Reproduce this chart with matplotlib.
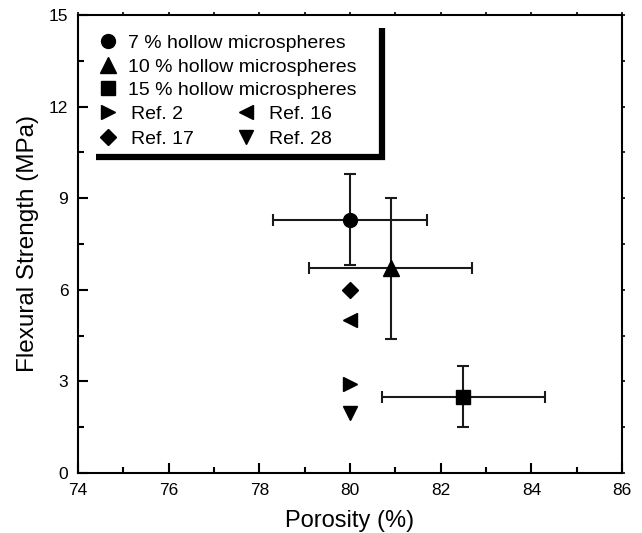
import matplotlib
matplotlib.use("Agg")
import matplotlib.pyplot as plt
from matplotlib.lines import Line2D
from matplotlib.ticker import MultipleLocator, NullFormatter

plt.rcParams['font.family'] = ['Liberation Sans', 'DejaVu Sans']

# Measured samples (porosity %, flexural strength MPa) with error ranges
series_labels = ["7 % hollow microspheres", "10 % hollow microspheres", "15 % hollow microspheres"]
series_markers = ["o", "^", "s"]
porosity = [80.0, 80.9, 82.5]
strength = [8.3, 6.7, 2.5]
porosity_lo = [78.3, 79.1, 80.7]
porosity_hi = [81.7, 82.7, 84.3]
strength_lo = [6.8, 4.4, 1.5]
strength_hi = [9.8, 9.0, 3.5]

# Literature references
ref_labels = ["Ref. 2", "Ref. 16", "Ref. 17", "Ref. 28"]
ref_markers = [">", "<", "D", "v"]
ref_porosity = [80.0, 80.0, 80.0, 80.0]
ref_strength = [2.9, 5.0, 6.0, 1.95]

fig = plt.figure(figsize=(6.42, 5.33), dpi=100)
ax = fig.add_axes([0.1215, 0.1126, 0.8475, 0.8593])

msizes = {"o": 10, "^": 12, "s": 9.5, ">": 10.5, "<": 10.5, "D": 8.5, "v": 10.5}

handles = []
for x, y, xl, xh, yl, yh, m, lab in zip(porosity, strength, porosity_lo, porosity_hi,
                                         strength_lo, strength_hi, series_markers, series_labels):
    ax.errorbar([x], [y], xerr=[[x - xl], [xh - x]], yerr=[[y - yl], [yh - y]],
                fmt='none', ecolor='#1a1a1a', elinewidth=1.5, capsize=4, capthick=1.5, zorder=2)
    h, = ax.plot([x], [y], marker=m, color='black', ms=msizes[m], ls='none', label=lab, zorder=3)
    handles.append(h)

ref_handles = []
for x, y, m, lab in zip(ref_porosity, ref_strength, ref_markers, ref_labels):
    h, = ax.plot([x], [y], marker=m, color='black', ms=msizes[m], ls='none', label=lab, zorder=3)
    ref_handles.append(h)

ax.set_xlim(74, 86)
ax.set_ylim(0, 15)
ax.xaxis.set_major_locator(MultipleLocator(2))
ax.xaxis.set_minor_locator(MultipleLocator(1))
ax.yaxis.set_major_locator(MultipleLocator(3))
ax.yaxis.set_minor_locator(MultipleLocator(1.5))
ax.tick_params(which='both', direction='in', labelsize=12.5, width=1.5, colors='black')
ax.tick_params(which='major', length=7)
ax.tick_params(which='minor', length=4.5)
ax.tick_params(axis='x', pad=7)
ax.tick_params(axis='y', pad=7)
for s in ax.spines.values():
    s.set_linewidth(1.5)

# tiny outward ticks on the top and right spines
secx = ax.secondary_xaxis('top')
secx.xaxis.set_major_locator(MultipleLocator(1))
secx.xaxis.set_major_formatter(NullFormatter())
secx.tick_params(direction='out', length=2, width=1.2)
secx.spines['top'].set_visible(False)
secy = ax.secondary_yaxis('right')
secy.yaxis.set_major_locator(MultipleLocator(1.5))
secy.yaxis.set_major_formatter(NullFormatter())
secy.tick_params(direction='out', length=2, width=1.2)
secy.spines['right'].set_visible(False)

ax.set_xlabel("Porosity (%)", fontsize=17, labelpad=9)
ax.set_ylabel("Flexural Strength (MPa)", fontsize=17.5, labelpad=7)

leg1 = ax.legend(handles=handles, loc='upper left', bbox_to_anchor=(0.037, 0.957),
                 frameon=False, fontsize=14, handlelength=1.0, handletextpad=0.55,
                 labelspacing=0.29, borderaxespad=0.0, borderpad=0.0)
ax.add_artist(leg1)
leg2 = ax.legend(handles=[ref_handles[0], ref_handles[2], ref_handles[1], ref_handles[3]],
                 labels=[ref_labels[0], ref_labels[2], ref_labels[1], ref_labels[3]],
                 ncol=2, loc='upper left', bbox_to_anchor=(0.037, 0.802),
                 frameon=False, fontsize=14, handlelength=1.0, handletextpad=0.68,
                 labelspacing=0.36, columnspacing=2.2, borderaxespad=0.0, borderpad=0.0)

# legend box drop-shadow (thick right and bottom edges)
W, H = 642.0, 533.0
px = lambda x: x / W
py = lambda y: 1 - y / H
shadow = Line2D([px(96), px(382), px(382)], [py(157), py(157), py(28)],
                transform=fig.transFigure, color='black', lw=4.5,
                solid_joinstyle='miter', solid_capstyle='butt')
fig.add_artist(shadow)

fig.savefig("out.png", dpi=100)
